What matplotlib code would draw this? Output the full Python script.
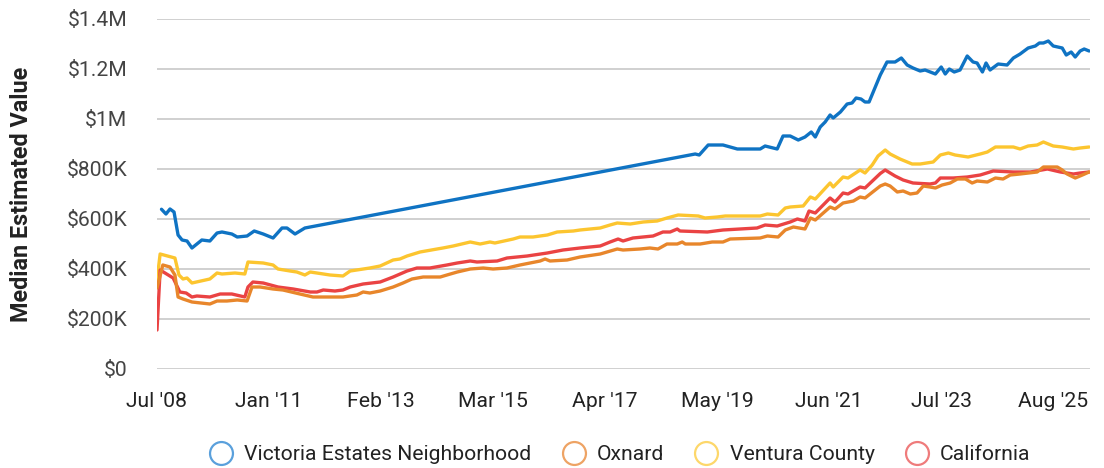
import matplotlib
matplotlib.use("Agg")
import matplotlib.pyplot as plt
from matplotlib.ticker import FuncFormatter, FixedLocator
from matplotlib.lines import Line2D

plt.rcParams['font.family'] = ['Roboto', 'DejaVu Sans']

# ---- data (x = month index on the chart's evenly spaced axis, values in $K) ----
tick_labels = ["Jul '08", "Jan '11", "Feb '13", "Mar '15", "Apr '17",
               "May '19", "Jun '21", "Jul '23", "Aug '25"]
tick_step = 25

series_names = ["Victoria Estates Neighborhood", "Oxnard", "Ventura County", "California"]

victoria_x = [1.0, 2.0, 2.9, 3.8, 4.7, 5.6, 6.7, 7.8, 10.0, 11.8, 13.4, 14.5, 16.7, 17.9,
              20.1, 21.7, 23.7, 25.9, 27.9, 29.0, 30.8, 33.0,
              120.1, 121.0, 123.0, 126.3, 129.5, 134.6, 135.7, 138.4, 139.7, 141.3, 143.1,
              144.6, 146.0, 146.9, 148.0, 149.1, 150.2, 150.9, 152.5, 154.0, 155.1, 156.0,
              157.1, 158.0, 158.9, 161.4, 162.9, 164.7, 166.1, 167.4, 168.7, 170.3, 171.4,
              173.7, 175.0, 175.9, 176.8, 177.9, 179.2, 180.8, 182.1, 183.0, 184.2, 185.0,
              185.9, 187.7, 189.7, 191.1, 192.6, 194.4, 196.0, 196.9, 197.8, 198.9, 200.0,
              202.0, 202.9, 204.0, 204.9, 206.0, 206.9, 208.0]
victoria_y = [639, 620, 640, 628, 536, 516, 512, 484, 516, 512, 544, 548, 540, 528,
              532, 552, 540, 524, 564, 564, 540, 564,
              860, 856, 896, 896, 880, 880, 892, 880, 932, 932, 916,
              928, 948, 928, 968, 988, 1016, 1004, 1028, 1060, 1064, 1084,
              1080, 1068, 1068, 1176, 1228, 1228, 1244, 1216, 1204, 1192, 1196,
              1180, 1208, 1180, 1200, 1188, 1196, 1252, 1228, 1224, 1188, 1224,
              1196, 1220, 1216, 1244, 1260, 1284, 1292, 1304, 1304, 1312, 1292,
              1284, 1256, 1268, 1248, 1272, 1280, 1272]

oxnard_x = [0.0, 1.3, 2.9, 4.0, 4.7, 5.8, 7.8, 11.8, 13.4, 15.6, 17.9, 20.1, 21.2, 23.0,
            25.9, 28.1, 31.9, 34.8, 38.6, 41.5, 44.6, 46.0, 47.5, 49.8, 52.7, 54.9, 56.9,
            59.4, 63.2, 64.7, 67.0, 69.9, 72.8, 75.0, 78.1, 81.0, 85.5, 86.6, 87.7, 91.5,
            94.4, 98.9, 102.7, 104.0, 107.8, 110.0, 111.8, 113.8, 116.1, 117.2, 117.9,
            121.2, 123.9, 126.3, 127.9, 134.6, 136.2, 138.6, 140.2, 142.0, 144.6, 145.8,
            146.9, 150.2, 151.3, 153.1, 155.4, 156.9, 158.0, 161.4, 162.5, 163.6, 165.2,
            166.5, 168.1, 169.6, 171.0, 172.5, 173.7, 175.2, 177.0, 178.6, 180.4, 181.9,
            183.0, 185.3, 187.1, 188.8, 190.4, 192.6, 196.4, 197.8, 200.9, 202.0, 203.1,
            204.9, 206.5, 208.0]
oxnard_y = [324, 416, 408, 376, 288, 280, 268, 260, 272, 272, 276, 272, 328, 328,
            320, 316, 300, 288, 288, 288, 296, 308, 304, 312, 328, 344, 360,
            368, 368, 376, 388, 400, 404, 400, 404, 416, 432, 440, 432, 436,
            448, 460, 480, 476, 480, 484, 480, 500, 500, 508, 500,
            500, 508, 508, 520, 524, 532, 528, 556, 568, 560, 604,
            596, 648, 640, 664, 672, 688, 684, 732, 740, 732, 708,
            712, 700, 704, 732, 728, 724, 736, 744, 760, 760, 744,
            752, 748, 764, 760, 776, 780, 788, 808, 808, 796, 780,
            764, 776, 788]

ventura_x = [0.0, 0.7, 4.0, 4.9, 5.8, 6.7, 7.8, 11.8, 13.4, 14.5, 17.4, 19.6, 20.3, 23.7,
             25.9, 27.0, 29.7, 31.2, 33.0, 34.2, 38.6, 41.5, 43.1, 47.5, 49.8, 52.7, 54.2,
             55.8, 58.7, 62.5, 63.8, 66.1, 69.9, 72.1, 74.3, 75.4, 79.5, 81.0, 83.9, 87.1,
             89.3, 92.9, 94.4, 98.9, 101.1, 102.7, 105.6, 108.5, 111.6, 113.8, 116.3, 120.8,
             122.3, 125.0, 126.8, 134.6, 136.2, 138.6, 140.2, 141.3, 144.2, 145.8, 146.9,
             150.2, 150.9, 153.1, 154.2, 156.9, 158.0, 159.6, 160.9, 162.5, 163.6, 165.8,
             168.5, 170.3, 173.2, 174.8, 176.6, 178.1, 181.0, 183.7, 185.3, 187.1, 191.1,
             192.6, 194.4, 196.4, 197.8, 200.0, 202.0, 204.5, 206.0, 208.0]
ventura_y = [356, 460, 444, 376, 360, 364, 344, 360, 384, 380, 384, 380, 428, 424,
             416, 400, 392, 388, 376, 388, 376, 372, 392, 404, 412, 436, 440,
             452, 468, 480, 484, 492, 508, 500, 508, 504, 520, 528, 528, 536,
             548, 552, 556, 564, 576, 584, 580, 588, 592, 604, 616, 612,
             604, 608, 612, 612, 620, 616, 644, 648, 652, 688, 680,
             744, 728, 768, 764, 796, 784, 816, 852, 876, 860, 840,
             820, 820, 828, 856, 864, 856, 848, 860, 868, 888, 888,
             880, 892, 896, 908, 892, 888, 880, 884, 888]

california_x = [0.0, 0.7, 3.6, 5.1, 6.5, 7.8, 8.9, 11.8, 14.1, 16.7, 19.6, 20.3, 21.4, 23.7,
                27.0, 30.4, 34.2, 35.7, 37.1, 39.7, 41.5, 43.1, 46.0, 49.8, 52.7, 55.8, 58.0,
                60.9, 64.7, 67.0, 69.9, 71.4, 75.9, 78.1, 82.6, 87.1, 90.6, 94.4, 98.9, 101.1,
                102.9, 104.0, 106.2, 110.7, 112.9, 114.5, 116.1, 116.7, 122.8, 126.3, 133.9,
                135.7, 138.4, 141.3, 142.9, 144.6, 145.5, 146.9, 150.2, 151.3, 153.1, 154.2,
                156.9, 158.0, 161.4, 162.5, 163.6, 164.7, 166.5, 168.7, 172.5, 173.7, 174.8,
                177.7, 180.8, 183.7, 186.6, 191.1, 194.9, 198.7, 201.6, 204.5, 206.0, 208.0]
california_y = [156, 396, 364, 308, 304, 288, 292, 288, 300, 300, 288, 328, 348, 344,
                328, 320, 308, 308, 316, 312, 316, 328, 340, 348, 368, 392, 404,
                404, 416, 424, 432, 428, 432, 444, 452, 464, 476, 484, 492, 508,
                520, 512, 524, 532, 548, 548, 560, 552, 548, 556, 564,
                576, 572, 588, 600, 592, 632, 624, 684, 668, 704, 700,
                728, 724, 782, 796, 784, 772, 756, 744, 740, 744, 764,
                764, 768, 776, 792, 788, 788, 800, 788, 780, 784, 788]

colors = ["#0f73c3", "#e8862b", "#fcc52f", "#ea4343"]
legend_edge = ["#5aa0dc", "#eea364", "#fdd76a", "#ef7b7b"]

# ---- figure ----
W, H = 1104, 468
fig = plt.figure(figsize=(W / 100, H / 100), dpi=100)
ax = fig.add_axes([157 / W, 1 - 369 / H, (1090 - 157) / W, (369 - 19) / H])

data = [(victoria_x, victoria_y), (oxnard_x, oxnard_y),
        (ventura_x, ventura_y), (california_x, california_y)]
zorders = [6, 5, 3, 4]
for (xs, ys), c, z in zip(data, colors, zorders):
    ax.plot(xs, ys, color=c, lw=2.4, solid_joinstyle='round', solid_capstyle='round', zorder=z)

ax.set_xlim(0, 208.2)
ax.set_ylim(0, 1400)
ax.yaxis.set_major_locator(FixedLocator([0, 200, 400, 600, 800, 1000, 1200, 1400]))


def fmt(v, pos):
    if v == 0:
        return "$0"
    if v >= 1000:
        return "${:g}M".format(v / 1000)
    return "${:g}K".format(v)


ax.yaxis.set_major_formatter(FuncFormatter(fmt))
ax.set_xticks([i * tick_step for i in range(len(tick_labels))])
ax.set_xticklabels(tick_labels)

ax.grid(axis='y', color='#c4c4c4', lw=1.1)
ax.grid(axis='x', visible=False)
ax.set_axisbelow(True)
for s in ax.spines.values():
    s.set_visible(False)
ax.tick_params(axis='y', length=0, pad=21.5, labelsize=15.2, labelcolor='#444444')
ax.tick_params(axis='x', length=0, pad=16.5, labelsize=15.2, labelcolor='#222222')
ax.patch.set_alpha(0)

fig.text(22 / W, 1 - 194 / H, "Median Estimated Value", rotation=90, ha='center', va='center',
         fontsize=16.8, fontweight='bold', color='#222222')

handles = [Line2D([], [], lw=0, marker='o', markersize=16.5, markerfacecolor='none',
                  markeredgecolor=ec, markeredgewidth=1.6) for ec in legend_edge]
fig.legend(handles, series_names, loc='center', bbox_to_anchor=(620 / W, 1 - 455 / H),
           ncol=4, frameon=False, fontsize=15.2, handlelength=1.1, handletextpad=0.55,
           columnspacing=1.45, labelcolor='#222222')

fig.savefig("out.png", dpi=100)
